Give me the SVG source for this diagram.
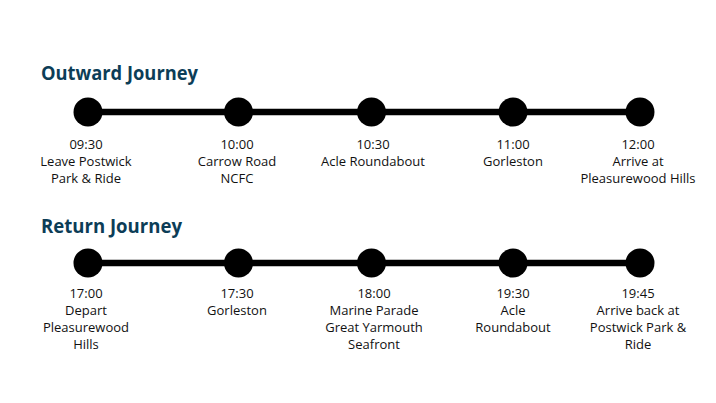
<svg xmlns="http://www.w3.org/2000/svg" width="716" height="403" viewBox="0 0 716 403">
<style>
.title{font-family:"Open Sans","Liberation Sans",sans-serif;font-weight:700;font-size:20px;fill:#0c3d57}
.lbl{font-family:"Open Sans","Liberation Sans",sans-serif;font-size:13px;fill:#111;text-anchor:middle}
.dot{fill:#000}
.line{stroke:#000;stroke-width:6.5;fill:none}
</style>
<rect width="716" height="403" fill="#fff"/>
<text class="title" x="41" y="80" textLength="157" lengthAdjust="spacingAndGlyphs">Outward Journey</text>
<text class="title" x="41" y="233" textLength="141" lengthAdjust="spacingAndGlyphs">Return Journey</text>
<g id="connectors">
<line class="line" x1="88" y1="112" x2="640" y2="112"/>
<line class="line" x1="88" y1="263" x2="640" y2="263"/>
</g>
<g id="out1"><circle class="dot" cx="88" cy="112" r="14.5"/><text class="lbl" x="86" y="149">09:30<tspan x="86" dy="17">Leave Postwick</tspan><tspan x="86" dy="17">Park &amp; Ride</tspan></text></g>
<g id="out2"><circle class="dot" cx="238.5" cy="112" r="14.5"/><text class="lbl" x="237" y="149">10:00<tspan x="237" dy="17">Carrow Road</tspan><tspan x="237" dy="17">NCFC</tspan></text></g>
<g id="out3"><circle class="dot" cx="371.5" cy="112" r="14.5"/><text class="lbl" x="373" y="149">10:30<tspan x="373" dy="17">Acle Roundabout</tspan></text></g>
<g id="out4"><circle class="dot" cx="513" cy="112" r="14.5"/><text class="lbl" x="513" y="149">11:00<tspan x="513" dy="17">Gorleston</tspan></text></g>
<g id="out5"><circle class="dot" cx="640" cy="112" r="14.5"/><text class="lbl" x="638" y="149">12:00<tspan x="638" dy="17">Arrive at</tspan><tspan x="638" dy="17">Pleasurewood Hills</tspan></text></g>
<g id="ret1"><circle class="dot" cx="88" cy="263" r="14.5"/><text class="lbl" x="86" y="298">17:00<tspan x="86" dy="17">Depart</tspan><tspan x="86" dy="17">Pleasurewood</tspan><tspan x="86" dy="17">Hills</tspan></text></g>
<g id="ret2"><circle class="dot" cx="238.5" cy="263" r="14.5"/><text class="lbl" x="237" y="298">17:30<tspan x="237" dy="17">Gorleston</tspan></text></g>
<g id="ret3"><circle class="dot" cx="371.5" cy="263" r="14.5"/><text class="lbl" x="374" y="298">18:00<tspan x="374" dy="17">Marine Parade</tspan><tspan x="374" dy="17">Great Yarmouth</tspan><tspan x="374" dy="17">Seafront</tspan></text></g>
<g id="ret4"><circle class="dot" cx="513" cy="263" r="14.5"/><text class="lbl" x="513" y="298">19:30<tspan x="513" dy="17">Acle</tspan><tspan x="513" dy="17">Roundabout</tspan></text></g>
<g id="ret5"><circle class="dot" cx="640" cy="263" r="14.5"/><text class="lbl" x="638" y="298">19:45<tspan x="638" dy="17">Arrive back at</tspan><tspan x="638" dy="17">Postwick Park &amp;</tspan><tspan x="638" dy="17">Ride</tspan></text></g>
</svg>
